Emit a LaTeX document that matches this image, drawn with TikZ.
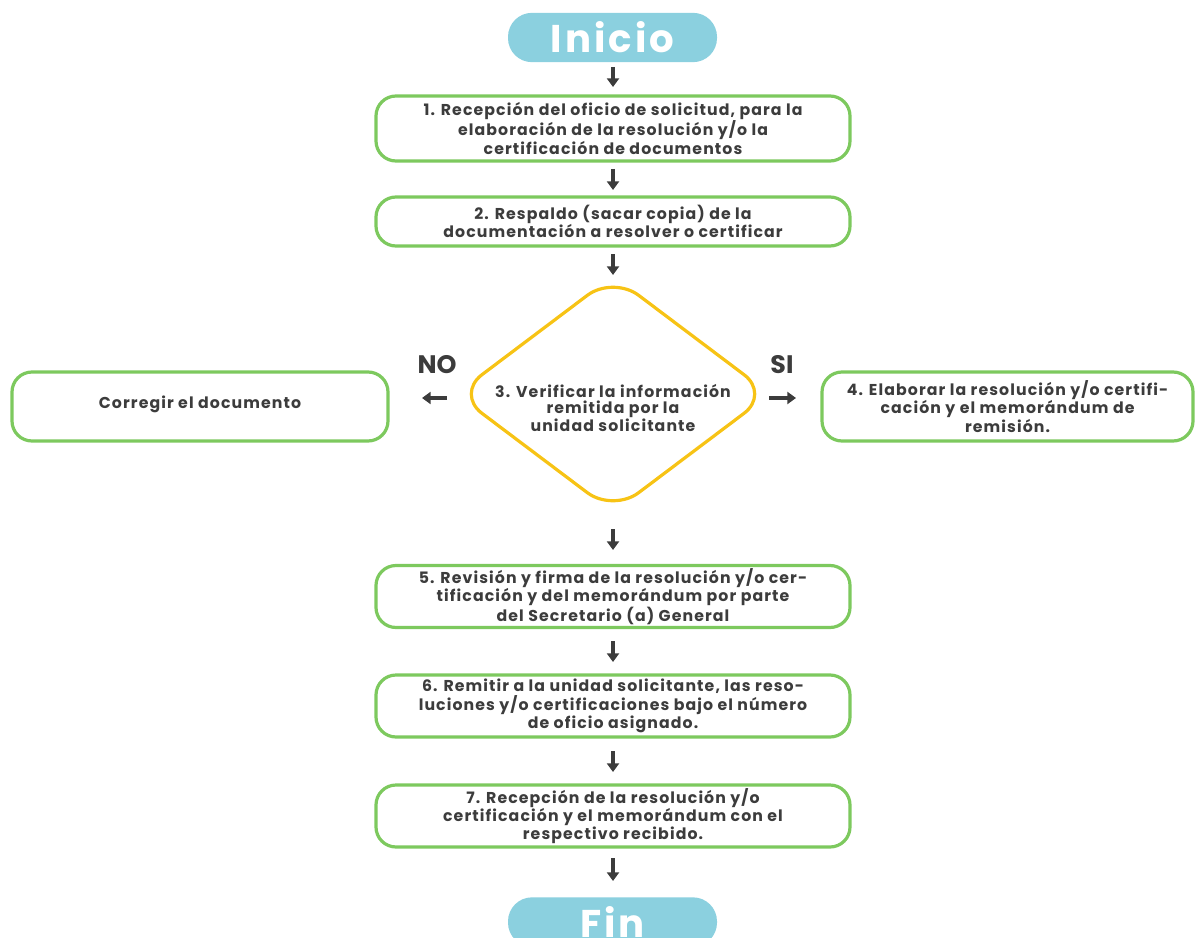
\documentclass[tikz,border=0pt]{standalone}
\usepackage{fontspec}
\setmainfont{Poppins}
\usetikzlibrary{arrows.meta,shapes.geometric}
\definecolor{pill}{HTML}{8BD0DF}
\definecolor{grn}{HTML}{7DC95E}
\definecolor{ylw}{HTML}{F7C315}
\definecolor{txt}{HTML}{3C3C3C}
\tikzset{
  stxt/.style={text=txt, font=\bfseries\fontsize{11.8}{12.4}\selectfont\addfontfeatures{LetterSpace=7}, align=center},
  stepbox/.style={draw=grn, line width=2.4pt, rounded corners=15pt, fill=white, stxt, inner sep=0pt},
  pillbox/.style={fill=pill, rounded corners=18pt, text=white, font=\bfseries\fontsize{29}{30}\selectfont\addfontfeatures{LetterSpace=8}, inner sep=0pt},
  arr/.style={draw=txt, line width=2.4pt, -{Triangle[width=9pt,length=6.5pt]}},
  lbl/.style={text=txt, font=\bfseries\fontsize{19}{20}\selectfont}
}
\begin{document}
\begin{tikzpicture}[x=0.75pt,y=-0.75pt]
\useasboundingbox (0,0) rectangle (1195,938);
\begin{scope}
\clip (0,0) rectangle (1195,938);
\node[pillbox, minimum width=156.75pt, minimum height=37pt] (ini) at (612.5,37.5) {Inicio};
\node[pillbox, minimum width=156.75pt, minimum height=37pt] (fin) at (612.5,922) {Fin};
\end{scope}
\node[stepbox, minimum width=355.5pt, minimum height=48.75pt] (b1) at (613,128.5) {1. Recepción del oficio de solicitud, para la\\elaboración de la resolución y/o la\\certificación de documentos};
\node[stepbox, minimum width=355.5pt, minimum height=36.75pt] (b2) at (613,221.5) {2. Respaldo (sacar copia) de la\\documentación a resolver o certificar};
\node[draw=ylw, line width=2.4pt, diamond, rounded corners=24pt, minimum width=236pt, minimum height=178pt, inner sep=0pt, aspect=1.33] (d) at (613,394) {};
\node[stxt] (dt) at (613,408) {3. Verificar la información\\remitida por la\\unidad solicitante};
\node[stepbox, minimum width=282pt, minimum height=51.75pt] (b0) at (200,406.5) {};
\node[stxt] (b0t) at (200,404) {Corregir el documento};
\node[stepbox, minimum width=278.25pt, minimum height=51.75pt] (b4) at (1007.5,406.5) {4. Elaborar la resolución y/o certifi-\\cación y el memorándum de\\remisión.};
\node[stepbox, minimum width=355.5pt, minimum height=46.5pt] (b5) at (613,596.5) {5. Revisión y firma de la resolución y/o cer-\\tificación y del memorándum por parte\\del Secretario (a) General};
\node[stepbox, minimum width=355.5pt, minimum height=46.5pt] (b6) at (613,706) {6. Remitir a la unidad solicitante, las reso-\\luciones y/o certificaciones bajo el número\\de oficio asignado.};
\node[stepbox, minimum width=355.5pt, minimum height=46.5pt] (b7) at (613,816) {7. Recepción de la resolución y/o\\certificación y el memorándum con el\\respectivo recibido.};
\node[lbl] (no) at (437,365) {NO};
\node[lbl] (si) at (782,365) {SI};
\coordinate (a1s) at (613,67); \coordinate (a1e) at (613,87);
\coordinate (a2s) at (613,169); \coordinate (a2e) at (613,190);
\coordinate (a3s) at (613,254); \coordinate (a3e) at (613,275);
\coordinate (a4s) at (613,529); \coordinate (a4e) at (613,550);
\coordinate (a5s) at (613,641); \coordinate (a5e) at (613,662);
\coordinate (a6s) at (613,751); \coordinate (a6e) at (613,772);
\coordinate (a7s) at (613,858); \coordinate (a7e) at (613,881);
\coordinate (nos) at (447,398); \coordinate (noe) at (422,398);
\coordinate (sis) at (769,398); \coordinate (sie) at (796,398);
\draw[arr] (a1s) -- (a1e);
\draw[arr] (a2s) -- (a2e);
\draw[arr] (a3s) -- (a3e);
\draw[arr] (a4s) -- (a4e);
\draw[arr] (a5s) -- (a5e);
\draw[arr] (a6s) -- (a6e);
\draw[arr] (a7s) -- (a7e);
\draw[arr] (nos) -- (noe);
\draw[arr] (sis) -- (sie);
\end{tikzpicture}
\end{document}
